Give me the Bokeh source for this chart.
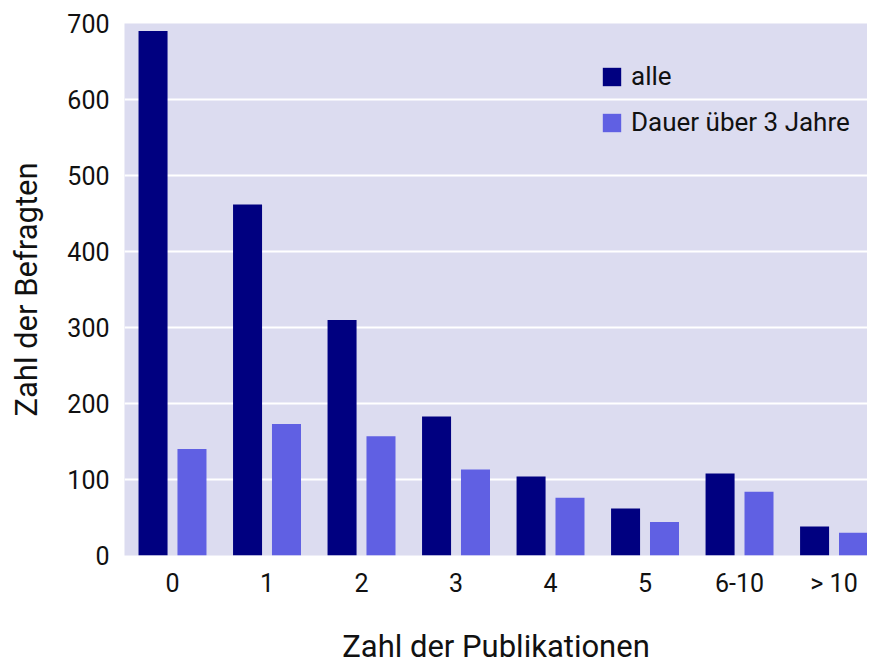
from bokeh.plotting import figure
from bokeh.models import Range1d, FixedTicker, Legend, LegendItem, ColumnDataSource
from bokeh.transform import dodge
from bokeh.embed import file_html
from bokeh.resources import INLINE

categories = ["0", "1", "2", "3", "4", "5", "6-10", "> 10"]
alle = [690, 462, 310, 183, 104, 62, 108, 38]
dauer = [140, 173, 157, 113, 76, 44, 84, 30]
y_ticks = [0, 100, 200, 300, 400, 500, 600, 700]
x_title = "Zahl der Publikationen"
y_title = "Zahl der Befragten"

idx = list(range(len(categories)))
src = ColumnDataSource(dict(x=idx, alle=alle, dauer=dauer))

FONT = "Roboto"

p = figure(width=867, height=667, output_backend="svg", toolbar_location=None,
           x_range=Range1d(-0.508, 7.354), y_range=Range1d(0, 700),
           min_border_left=124, min_border_top=23, min_border_right=0, min_border_bottom=100)

p.background_fill_color = "#DCDCF0"
p.border_fill_color = "white"
p.outline_line_color = None

r1 = p.vbar(x=dodge("x", -0.206), top="alle", width=0.307, source=src, fill_color="#000080", line_color=None)
r2 = p.vbar(x=dodge("x", 0.206), top="dauer", width=0.307, source=src, fill_color="#6060E3", line_color=None)

p.xaxis.ticker = FixedTicker(ticks=idx)
p.xaxis.major_label_overrides = {i: c for i, c in zip(idx, categories)}
p.yaxis.ticker = FixedTicker(ticks=y_ticks)

for ax in (p.xaxis[0], p.yaxis[0]):
    ax.axis_line_color = None
    ax.major_tick_line_color = None
    ax.minor_tick_line_color = None
    ax.major_tick_out = 0
    ax.major_tick_in = 0
    ax.minor_tick_out = 0
    ax.minor_tick_in = 0
    ax.major_label_text_font = FONT
    ax.major_label_text_font_size = "25px"
    ax.major_label_text_color = "#111111"
    ax.axis_label_text_font = FONT
    ax.axis_label_text_font_size = "31px"
    ax.axis_label_text_font_style = "normal"
    ax.axis_label_text_color = "#111111"

p.xaxis.axis_label = x_title
p.yaxis.axis_label = y_title
p.xaxis.major_label_standoff = 13
p.xaxis.axis_label_standoff = 27
p.yaxis.major_label_standoff = 15
p.yaxis.axis_label_standoff = 19

p.xgrid.grid_line_color = None
p.ygrid.grid_line_color = "white"
p.ygrid.grid_line_width = 2

legend = Legend(items=[LegendItem(label="alle", renderers=[r1]),
                       LegendItem(label="Dauer über 3 Jahre", renderers=[r2])],
                location=(476, 418))
legend.background_fill_alpha = 0
legend.border_line_color = None
legend.label_text_font = FONT
legend.label_text_font_size = "26px"
legend.label_text_color = "#111111"
legend.glyph_width = 23
legend.glyph_height = 23
legend.label_height = 23
legend.spacing = 16
legend.padding = 0
legend.margin = 0
legend.label_standoff = 8
p.add_layout(legend)

open("out.html", "w").write(file_html(p, INLINE))
